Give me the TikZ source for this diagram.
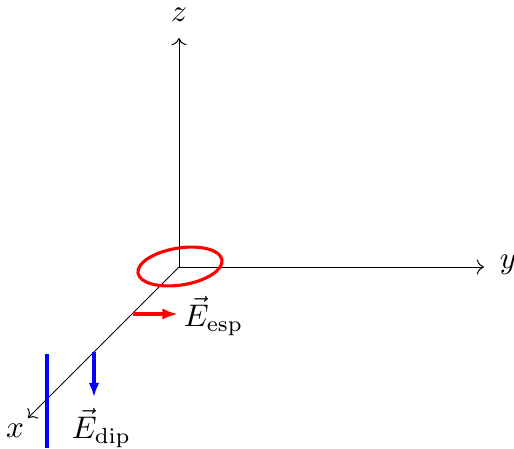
\documentclass[tikz,border=0pt]{standalone}
\usetikzlibrary{arrows.meta}
\begin{document}
\begin{tikzpicture}[x=0.32pt,y=-0.32pt,
  axis/.style={->,line width=0.32pt},
  redvec/.style={-{Latex[length=5pt,width=3.6pt]},red,line width=1pt},
  bluevec/.style={-{Latex[length=4.5pt,width=3.4pt]},blue,line width=1pt},
  lbl/.style={inner sep=1pt}]
\useasboundingbox (0,0) rectangle (514,448);
\coordinate (O) at (179,267);
\coordinate (zend) at (179,38);
\coordinate (yend) at (484,267);
\coordinate (xend) at (28,418);
\draw[axis] (O) -- (zend);
\draw[axis] (O) -- (yend);
\draw[axis] (O) -- (xend);
\node[lbl] (zl) at (179,15) {$z$};
\node[lbl] (yl) at (508,265) {$y$};
\node[lbl] (xl) at (15,431) {$x$};
\draw[red,line width=1pt,rotate around={9:(180,266.5)}] (180,266.5) ellipse [x radius=42.5,y radius=18.5];
\coordinate (ra) at (133,314);
\coordinate (rb) at (178,314);
\draw[redvec] (ra) -- (rb);
\node[lbl,anchor=west] (Eesp) at (180,316) {$\vec{E}_{\mathrm{esp}}$};
\coordinate (bl1) at (47,354);
\coordinate (bl2) at (47,448);
\draw[blue,line width=1pt] (bl1) -- (bl2);
\coordinate (ba) at (94,352);
\coordinate (bb) at (94,397);
\draw[bluevec] (ba) -- (bb);
\node[lbl,anchor=west] (Edip) at (68,428) {$\vec{E}_{\mathrm{dip}}$};
\end{tikzpicture}
\end{document}
